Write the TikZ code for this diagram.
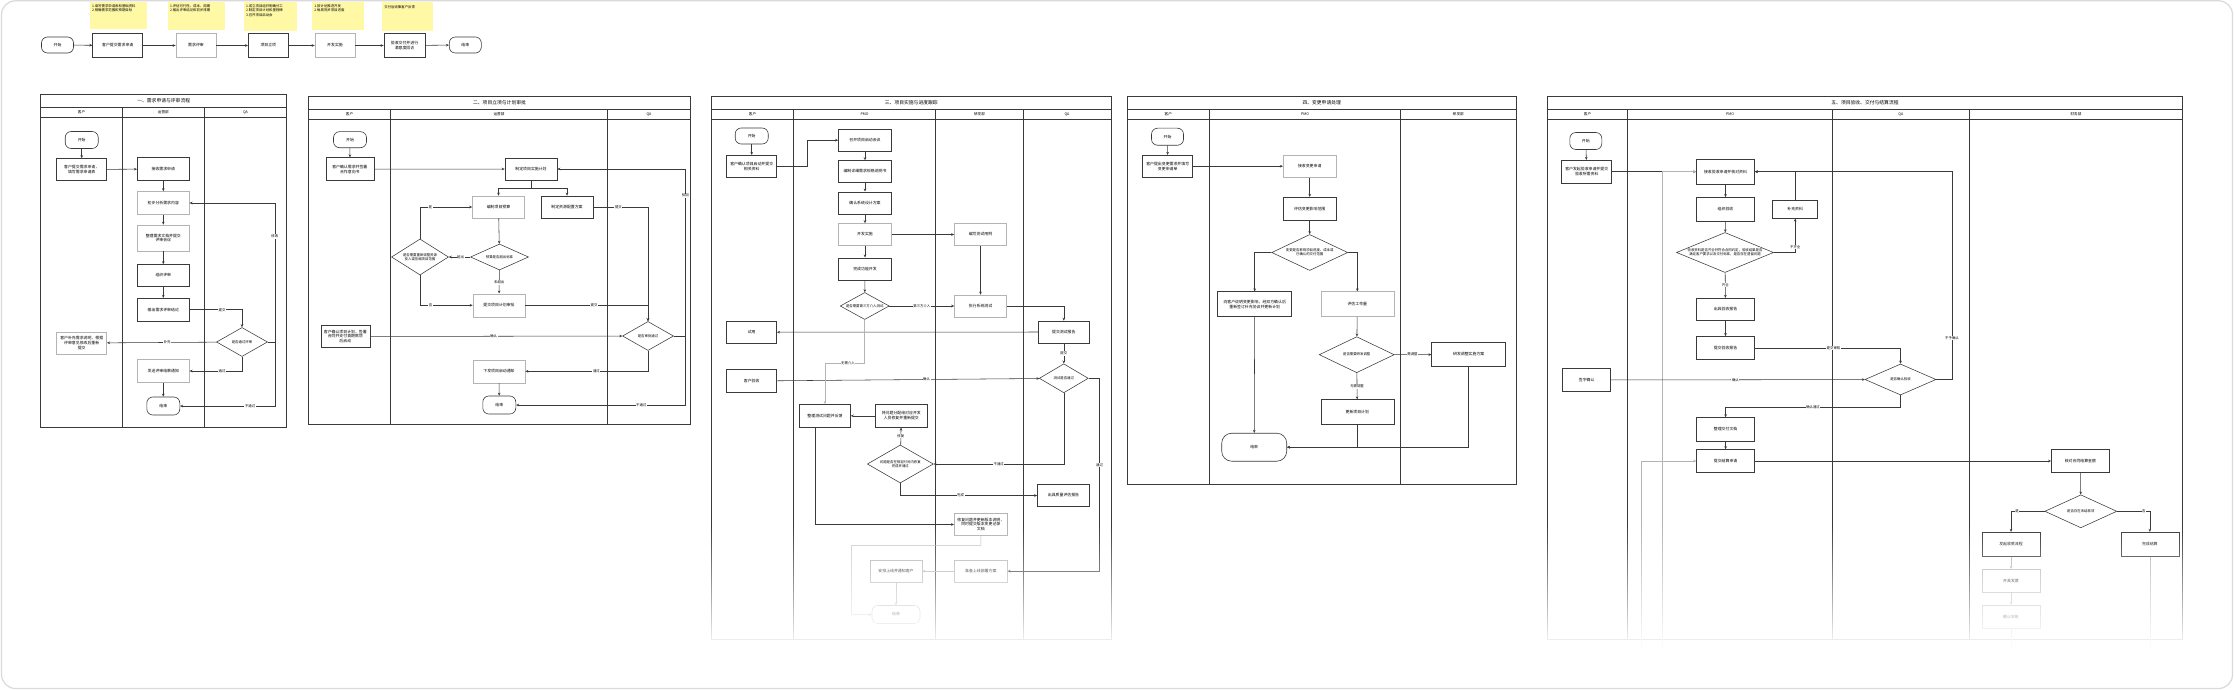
\documentclass[tikz,border=0pt]{standalone}
\usepackage{fontspec}
\setmainfont{Noto Sans CJK SC}
\usepackage{tikz}
\usetikzlibrary{arrows.meta, positioning, shapes.geometric, fadings}
\definecolor{ink}{HTML}{3A3A3A}
\definecolor{soft}{HTML}{B4B4B4}
\definecolor{sticky}{HTML}{FFF9A6}
\definecolor{frame}{HTML}{DADADA}

\begin{document}
\begin{tikzpicture}[x=1pt, y=-1pt,
  box/.style={draw=ink, fill=white, line width=0.6pt, align=center, font=\fontsize{3.9}{4.7}\selectfont,
              minimum width=52pt, minimum height=22pt, inner sep=1pt},
  lbox/.style={box, draw=soft},
  term/.style={box, rounded corners=6pt, minimum width=33pt, minimum height=17pt},
  dec/.style={diamond, draw=ink, fill=white, line width=0.55pt, inner sep=0pt},
  dtext/.style={align=center, font=\fontsize{3.4}{4.1}\selectfont, inner sep=0pt},
  note/.style={fill=sticky, inner sep=0pt, anchor=north west},
  ntext/.style={align=left, font=\fontsize{3.4}{4.3}\selectfont, inner sep=2.5pt, anchor=north west},
  lane/.style={draw=ink, line width=0.6pt},
  head/.style={font=\fontsize{3.6}{4}\selectfont, inner sep=0pt},
  ttl/.style={font=\fontsize{4.8}{5}\selectfont, inner sep=0pt},
  lbl/.style={fill=white, font=\fontsize{3.4}{4}\selectfont, inner sep=0.6pt},
  flow/.style={->, draw=ink, line width=0.55pt},
  faint/.style={flow, draw=soft},
  >={Stealth[length=3pt, width=2.6pt]}
]
\useasboundingbox (0,0) rectangle (2234,690);
\fill[white] (0,0) rectangle (2234,690);

\node[note, minimum width=57.4pt, minimum height=27.3pt, label={[ntext]north west:{1.填写需求申请表和基础资料\\2.明确需求范围和预期目标}}] (n1) at (89.3,2) {};
\node[note, minimum width=57.7pt, minimum height=28pt, label={[ntext]north west:{1.评估可行性、成本、周期\\2.输出评审结论和初步排期}}] (n2) at (167.3,2) {};
\node[note, minimum width=53.4pt, minimum height=29pt, label={[ntext]north west:{1.成立项目组并明确分工\\2.制定项目计划和里程碑\\3.召开项目启动会}}] (n3) at (243.3,2) {};
\node[note, minimum width=51.6pt, minimum height=28pt, label={[ntext]north west:{1.按计划推进开发\\2.每周同步项目进度}}] (n4) at (311.7,2) {};
\node[note, minimum width=50.6pt, minimum height=29pt, label={[ntext]north west:{\\交付后收集客户反馈}}] (n5) at (381.7,2) {};

\node[term, minimum width=32pt, minimum height=16pt] (t0) at (57.5,45) {开始};
\node[box, minimum width=50pt, minimum height=24pt] (t1) at (117.7,45.5) {客户提交需求申请};
\node[lbox, minimum width=40pt, minimum height=24pt] (t2) at (196,45.5) {需求评审};
\node[box, minimum width=40pt, minimum height=24pt] (t3) at (268.3,45.5) {项目立项};
\node[lbox, minimum width=40pt, minimum height=24pt] (t4) at (335,45.5) {开发实施};
\node[box, minimum width=41pt, minimum height=24pt] (t5) at (404.5,45.5) {验收交付并进行\\满意度回访};
\node[term, minimum width=32pt, minimum height=16pt] (t6) at (465.3,45) {结束};
\draw[flow] (t0) -- (t1);
\draw[flow] (t1) -- (t2);
\draw[flow] (t2) -- (t3);
\draw[flow] (t3) -- (t4);
\draw[flow] (t4) -- (t5);
\draw[flow] (t5) -- (t6);

\draw[lane] (40.7,94) rectangle (286.7,427.3);
\draw[lane] (40.7,107.3) -- (286.7,107.3) (40.7,117.3) -- (286.7,117.3)
  (122.3,107.3) -- (122.3,427.3) (204.3,107.3) -- (204.3,427.3);
\node[ttl] (ttl1) at (163.7,100.7) {一、需求申请与评审流程};
\node[head] (h1a) at (81.5,112.3) {客户};
\node[head] (h1b) at (163.3,112.3) {运营部};
\node[head] (h1c) at (245.5,112.3) {QA};
\node[term] (s1) at (81.7,140) {开始};
\node[box, minimum width=50pt] (u1a) at (81.7,169.5) {客户提交需求申请，\\填写需求申请表};
\node[box, minimum height=23pt] (a1) at (163.3,169) {接收需求申请};
\node[lbox, minimum height=23pt] (a2) at (163.3,203) {初步分析需求内容};
\node[lbox, minimum height=26pt] (a3) at (163.3,238) {整理需求文档并提交\\评审会议};
\node[box] (a4) at (163.3,275.5) {组织评审};
\node[box, minimum height=23pt] (a5) at (163.3,309.7) {输出需求评审结论};
\node[dec, minimum width=51pt, minimum height=29pt, label={[dtext]center:是否通过评审}] (da) at (242,342) {};
\node[lbox, minimum width=50pt] (u2a) at (81.7,343) {客户补充需求说明，根据\\评审意见修改后重新\\提交};
\node[lbox, minimum height=23pt] (a6) at (163.3,371) {发送评审结果通知};
\node[term, minimum height=18pt] (ea) at (163.3,406) {结束};
\draw[flow] (s1) -- (u1a);
\draw[flow] (u1a) -- (a1);
\draw[flow] (a1) -- (a2);
\draw[flow] (a2) -- (a3);
\draw[flow] (a3) -- (a4);
\draw[flow] (a4) -- (a5);
\draw[flow] (a5) -| node[pos=0.31, lbl]{提交} (da);
\draw[flow] (da) -- node[pos=0.45, lbl]{补充} (u2a);
\draw[flow] (da) |- node[pos=0.69, lbl]{通过} (a6);
\draw[flow] (da.east) -- ++(7,0) |- node[pos=0.38, lbl]{修改} (a2.east);
\draw[flow] (da.east) -- ++(7,0) |- node[pos=0.63, lbl]{不通过} (ea.east);
\draw[flow] (a6) -- (ea);

\draw[lane] (308.3,96) rectangle (690.7,424.3);
\draw[lane] (308.3,109.3) -- (690.7,109.3) (308.3,119.3) -- (690.7,119.3)
  (390.7,109.3) -- (390.7,424.3) (607.3,109.3) -- (607.3,424.3);
\node[ttl] (ttl2) at (499.5,102.7) {二、项目立项与计划审批};
\node[head] (h2a) at (349.5,114.3) {客户};
\node[head] (h2b) at (499,114.3) {运营部};
\node[head] (h2c) at (649,114.3) {QA};
\node[term, minimum height=16pt] (s2) at (350,139.7) {开始};
\node[box, minimum width=48pt, minimum height=23pt] (u1b) at (349.8,169.2) {客户确认需求并签署\\合作意向书};
\node[box] (b1) at (531,169) {制定项目实施计划};
\node[lbox] (b2) at (498.5,207) {编制项目预算};
\node[box] (b3) at (567,207) {制定资源配置方案};
\node[dec, minimum width=58pt, minimum height=26pt, label={[dtext]center:预算是否超出标准}] (d1) at (499.5,257) {};
\node[dec, minimum width=57pt, minimum height=36pt, label={[dtext]center:{是否需要重新调整资源\\投入或压缩项目范围}}] (d2) at (420,257) {};
\node[lbox, minimum height=23pt] (b4) at (499,305.3) {提交项目计划审批};
\node[dec, minimum width=51pt, minimum height=29pt, label={[dtext]center:是否审批通过}] (d3) at (648,336) {};
\node[box, minimum width=49pt] (u2b) at (345.3,336.5) {客户确认项目计划，签署\\合同并支付首期款项\\后启动};
\node[lbox, minimum height=23pt] (b5) at (499,371.3) {下发项目启动通知};
\node[term, minimum height=18pt] (e2) at (499.3,405) {结束};
\draw[flow] (s2) -- (u1b);
\draw[flow] (u1b) -- (b1);
\draw[flow] (b1.south) -- ++(0,8) -| (b2.north);
\draw[flow] (b1.south) -- ++(0,8) -| (b3.north);
\draw[flow] (b2) -- (d1);
\draw[flow] (d1) -- node[pos=0.45, lbl]{超出} (d2);
\draw[flow] (d2) |- node[pos=0.6, lbl]{是} (b2);
\draw[flow] (d2) |- node[pos=0.6, lbl]{否} (b4);
\draw[flow] (d1) -- node[pos=0.53, lbl]{未超出} (b4);
\draw[flow] (b4) -| node[pos=0.28, lbl]{提交} (d3);
\draw[flow] (b3) -| node[pos=0.23, lbl]{提交} (d3);
\draw[flow] (u2b) -- node[pos=0.49, lbl]{确认} (d3);
\draw[flow] (d3) |- node[pos=0.71, lbl]{通过} (b5);
\draw[flow] (d3.east) -- ++(11.5,0) |- node[pos=0.42, lbl]{驳回} (b1.east);
\draw[flow] (d3.east) -- ++(11.5,0) |- node[pos=0.63, lbl]{不通过} (e2.east);
\draw[flow] (b5) -- (e2);

\draw[lane] (711.7,96) rectangle (1111,639);
\draw[lane] (711.7,109.3) -- (1111,109.3) (711.7,119.3) -- (1111,119.3)
  (793.3,109.3) -- (793.3,639) (935.7,109.3) -- (935.7,639) (1023.3,109.3) -- (1023.3,639);
\node[ttl] (ttl3) at (911.3,102.7) {三、项目实施与进度跟踪};
\node[head] (h3a) at (752.5,114.3) {客户};
\node[head] (h3b) at (864.5,114.3) {PMO};
\node[head] (h3c) at (979.5,114.3) {研发部};
\node[head] (h3d) at (1067,114.3) {QA};
\node[term, minimum height=16pt] (s3) at (751.7,136) {开始};
\node[box, minimum width=50pt] (u1c) at (751.7,166.2) {客户确认项目启动并提交\\相关资料};
\node[box, minimum width=53pt] (c1) at (865,140.2) {召开项目启动会议};
\node[box, minimum width=53pt] (c2) at (865,171.5) {编制详细需求规格说明书};
\node[box, minimum width=53pt] (c3) at (865,202.8) {确认系统设计方案};
\node[lbox, minimum width=53pt] (c4) at (865,234.5) {开发实施};
\node[box, minimum width=53pt] (c5) at (865,268.8) {完成功能开发};
\node[dec, minimum width=49pt, minimum height=27pt, label={[dtext]center:是否需要第三方介入测试}] (cd1) at (864.7,306) {};
\node[lbox] (p1) at (980.5,234.5) {编写测试用例};
\node[lbox] (p2) at (980.5,306) {执行系统测试};
\node[box, minimum width=51pt] (q1) at (1063.8,332) {提交测试报告};
\node[box, minimum width=50pt] (u2c) at (751.7,332.2) {试用};
\node[dec, minimum width=49pt, minimum height=29pt, label={[dtext]center:测试是否通过}] (qd3) at (1063.8,378.3) {};
\node[box, minimum width=50pt, minimum height=23pt] (u3c) at (751.7,381) {客户验收};
\node[box, minimum width=51pt, minimum height=23pt] (c6) at (825,415.8) {整理测试问题并反馈};
\node[box, minimum height=23pt] (c7) at (901.3,415.8) {将问题分配给对应开发\\人员修复并重新提交};
\node[dec, minimum width=66pt, minimum height=38pt, label={[dtext]center:{问题是否在规定时间内修复\\完成并通过}}] (cd2) at (900.3,464) {};
\node[box] (q2) at (1063.5,495.5) {出具质量评估报告};
\node[lbox, minimum width=53pt] (p3) at (980.8,524.5) {修复问题并更新版本说明，\\同时提交版本变更记录\\文档};
\node[lbox, minimum width=53pt] (p4) at (980.8,571.2) {准备上线部署方案};
\node[lbox] (c8) at (896,571.2) {安排上线并通知客户};
\node[term, draw=soft, minimum width=48pt, minimum height=18pt] (e3) at (896,614.5) {结束};
\draw[flow] (s3) -- (u1c);
\draw[flow] (u1c.east) -- ++(30.6,0) |- (c1.west);
\draw[flow] (c1) -- (c2);
\draw[flow] (c2) -- (c3);
\draw[flow] (c3) -- (c4);
\draw[flow] (c4) -- (c5);
\draw[flow] (c5) -- (cd1);
\draw[flow] (c4) -- (p1);
\draw[flow] (p1) -- (p2);
\draw[flow] (cd1) -- node[pos=0.5, lbl]{第三方介入} (p2);
\draw[flow] (p2) -| (q1);
\draw[flow] (q1) -- node[pos=0.5, lbl]{提交} (qd3);
\draw[flow] (q1) -- (u2c);
\draw[flow] (u3c) -- node[pos=0.57, lbl]{确认} (qd3);
\draw[faint] (cd1.south) -- ++(0,43.2) -| node[pos=0.21, lbl]{无需介入} (c6.north);
\draw[flow] (c7) -- (c6);
\draw[flow] (cd2) -- node[pos=0.5, lbl]{修复} (c7);
\draw[flow] (qd3) |- node[pos=0.75, lbl]{不通过} (cd2);
\draw[flow] (cd2) |- node[pos=0.72, lbl]{完成} (q2);
\draw[flow] ([xshift=-10pt]c6.south) |- (p3.west);
\draw[flow] (qd3.east) -- ++(11,0) |- node[pos=0.225, lbl]{通过} (p4.east);
\draw[faint] (p4) -- (c8);
\draw[faint] (c8) -- (e3);
\draw[faint] (p3.south) -- ++(0,9.5) -| ++(-129.1,69.5) -- (e3.west);

\draw[lane] (1127.3,96) rectangle (1516,484.3);
\draw[lane] (1127.3,109.3) -- (1516,109.3) (1127.3,119.3) -- (1516,119.3)
  (1209.3,109.3) -- (1209.3,484.3) (1400.7,109.3) -- (1400.7,484.3);
\node[ttl] (ttl4) at (1321.7,102.7) {四、变更申请处理};
\node[head] (h4a) at (1168.3,114.3) {客户};
\node[head] (h4b) at (1305,114.3) {PMO};
\node[head] (h4c) at (1458.3,114.3) {研发部};
\node[term, minimum width=32pt] (s4) at (1167.5,136.7) {开始};
\node[box, minimum width=50pt] (u1d) at (1167.7,166.2) {客户提出变更需求并填写\\变更申请单};
\node[lbox, minimum width=53pt] (f0) at (1309.7,166.2) {接收变更申请};
\node[box, minimum width=53pt, minimum height=23pt] (f2) at (1309.7,208.7) {评估变更影响范围};
\node[dec, minimum width=76pt, minimum height=36pt, label={[dtext]center:{变更是否影响项目进度、成本或\\已确认的交付范围}}] (fd1) at (1309.7,252.5) {};
\node[box, minimum width=74pt, minimum height=25pt] (f3) at (1254.7,304.2) {向客户说明变更影响，经双方确认后\\重新签订补充协议并更新计划};
\node[lbox, minimum width=73pt, minimum height=25pt] (f4) at (1357.3,304.2) {评估工作量};
\node[dec, minimum width=75pt, minimum height=36pt, label={[dtext]center:是否需要研发调整}] (fd2) at (1356.7,354.7) {};
\node[box, minimum width=74pt, minimum height=24pt] (f5) at (1468.7,354.5) {研发调整实施方案};
\node[box, minimum width=73pt, minimum height=25pt] (f6) at (1357.3,412.2) {更新项目计划};
\node[term, rounded corners=10pt, minimum width=65pt, minimum height=28pt] (e4) at (1254.2,447.2) {结束};
\draw[flow] (s4) -- (u1d);
\draw[flow] (u1d) -- (f0);
\draw[flow] (f0) -- (f2);
\draw[flow] (f2) -- (fd1);
\draw[flow] (fd1) -| (f3);
\draw[flow] (fd1) -| (f4);
\draw[flow] (f4) -- (fd2);
\draw[flow] (fd2) -- node[pos=0.49, lbl]{需调整} (f5);
\draw[flow] (fd2) -- node[pos=0.52, lbl]{无需调整} (f6);
\draw[flow] (f3) -- (e4);
\draw[flow] (f6) |- (e4.east);
\draw[flow] (f5) |- (e4.east);

\draw[lane] (1547.3,96) rectangle (2182.7,639);
\draw[lane] (1547.3,109.3) -- (2182.7,109.3) (1547.3,119.3) -- (2182.7,119.3)
  (1627.7,109.3) -- (1627.7,639) (1832.3,109.3) -- (1832.3,639) (1969.3,109.3) -- (1969.3,639);
\node[ttl] (ttl5) at (1865,102.7) {五、项目验收、交付与结算流程};
\node[head] (h5a) at (1587.5,114.3) {客户};
\node[head] (h5b) at (1730,114.3) {PMO};
\node[head] (h5c) at (1900.8,114.3) {QA};
\node[head] (h5d) at (2076,114.3) {财务部};
\node[term, minimum width=32pt] (s5) at (1585.8,141) {开始};
\node[box, minimum width=50pt, minimum height=23pt] (u1e) at (1586.7,171.7) {客户发起验收申请并提交\\验收所需资料};
\node[box, minimum width=58pt, minimum height=25pt] (g1) at (1725.5,171.7) {接收验收申请并核对资料};
\node[box, minimum width=58pt, minimum height=24pt] (g2) at (1725.5,209.5) {组织验收};
\node[dec, minimum width=97pt, minimum height=40pt, label={[dtext]center:{验收资料是否齐全并符合合同约定，验收结果是否\\满足客户要求以及交付标准，是否存在遗留问题}}] (gd1) at (1725,252.5) {};
\node[box, minimum width=45pt, minimum height=18pt] (g3) at (1795.2,209.2) {补充资料};
\node[box, minimum width=58pt] (g4) at (1725.5,309.2) {出具验收报告};
\node[box, minimum width=58pt, minimum height=23pt] (g5) at (1725.5,348) {提交验收报告};
\node[dec, minimum width=71pt, minimum height=31pt, label={[dtext]center:是否确认验收}] (qd5) at (1900.5,379.5) {};
\node[box, minimum width=48pt, minimum height=23pt] (u2e) at (1586.7,380) {签字确认};
\node[box, minimum width=58pt, minimum height=24pt] (g6) at (1725.6,429.5) {整理交付文档};
\node[box, minimum width=58pt, minimum height=23pt] (g7) at (1725.6,461) {提交结算申请};
\node[box, minimum width=58pt, minimum height=23pt] (k1) at (2080.4,461) {核对合同结算金额};
\node[dec, minimum width=72pt, minimum height=33pt, label={[dtext]center:是否存在未结款项}] (kd1) at (2080.8,511.3) {};
\node[box, minimum width=58pt, minimum height=24pt] (k2) at (2011,544.2) {发起收款流程};
\node[box, minimum width=58pt, minimum height=24pt] (k3) at (2149.8,544.2) {完成结算};
\node[lbox, minimum width=58pt, minimum height=23pt] (k4) at (2011,580.7) {开具发票};
\node[lbox, minimum width=58pt, minimum height=23pt] (k5) at (2011,616.7) {确认到账};
\coordinate (in5a) at (1641,690);
\coordinate (in5b) at (1662.7,690);
\coordinate (out5a) at (2011,690);
\coordinate (out5b) at (2149.8,690);
\draw[flow] (s5) -- (u1e);
\draw[flow] (u1e) -- (g1);
\draw[faint] (in5b) |- (g1.west);
\draw[flow] (g1) -- (g2);
\draw[flow] (g2) -- (gd1);
\draw[flow] (gd1) -| node[pos=0.58, lbl]{不齐全} (g3);
\draw[flow] (g3) |- (g1.east);
\draw[flow] (gd1) -- node[pos=0.49, lbl]{齐全} (g4);
\draw[flow] (g4) -- (g5);
\draw[flow] (g5) -| node[pos=0.27, lbl]{提交审核} (qd5);
\draw[flow] (u2e) -- node[pos=0.49, lbl]{确认} (qd5);
\draw[flow] (qd5.east) -- ++(15.7,0) |- node[pos=0.1, lbl]{不予确认} (g1.east);
\draw[flow] (qd5.south) -- ++(0,11.7) -| node[pos=0.25, lbl]{确认通过} (g6.north);
\draw[flow] (g6) -- (g7);
\draw[faint] (in5a) |- (g7.west);
\draw[flow] (g7) -- (k1);
\draw[flow] (k1) -- (kd1);
\draw[flow] (kd1) -| node[pos=0.41, lbl]{是} (k2);
\draw[flow] (kd1) -| node[pos=0.41, lbl]{否} (k3);
\draw[faint] (k2) -- (k4);
\draw[faint] (k4) -- (k5);
\draw[draw=soft, line width=0.55pt] (k5) -- (out5a);
\draw[draw=soft, line width=0.55pt] (k3) -- (out5b);

\fill[white, path fading=north] (0,525) rectangle (2234,650);
\fill[white] (0,650) rectangle (2234,690);
\draw[frame, line width=1.2pt, rounded corners=14pt] (1.5,0.8) rectangle (2232.5,688.5);
\end{tikzpicture}
\end{document}
